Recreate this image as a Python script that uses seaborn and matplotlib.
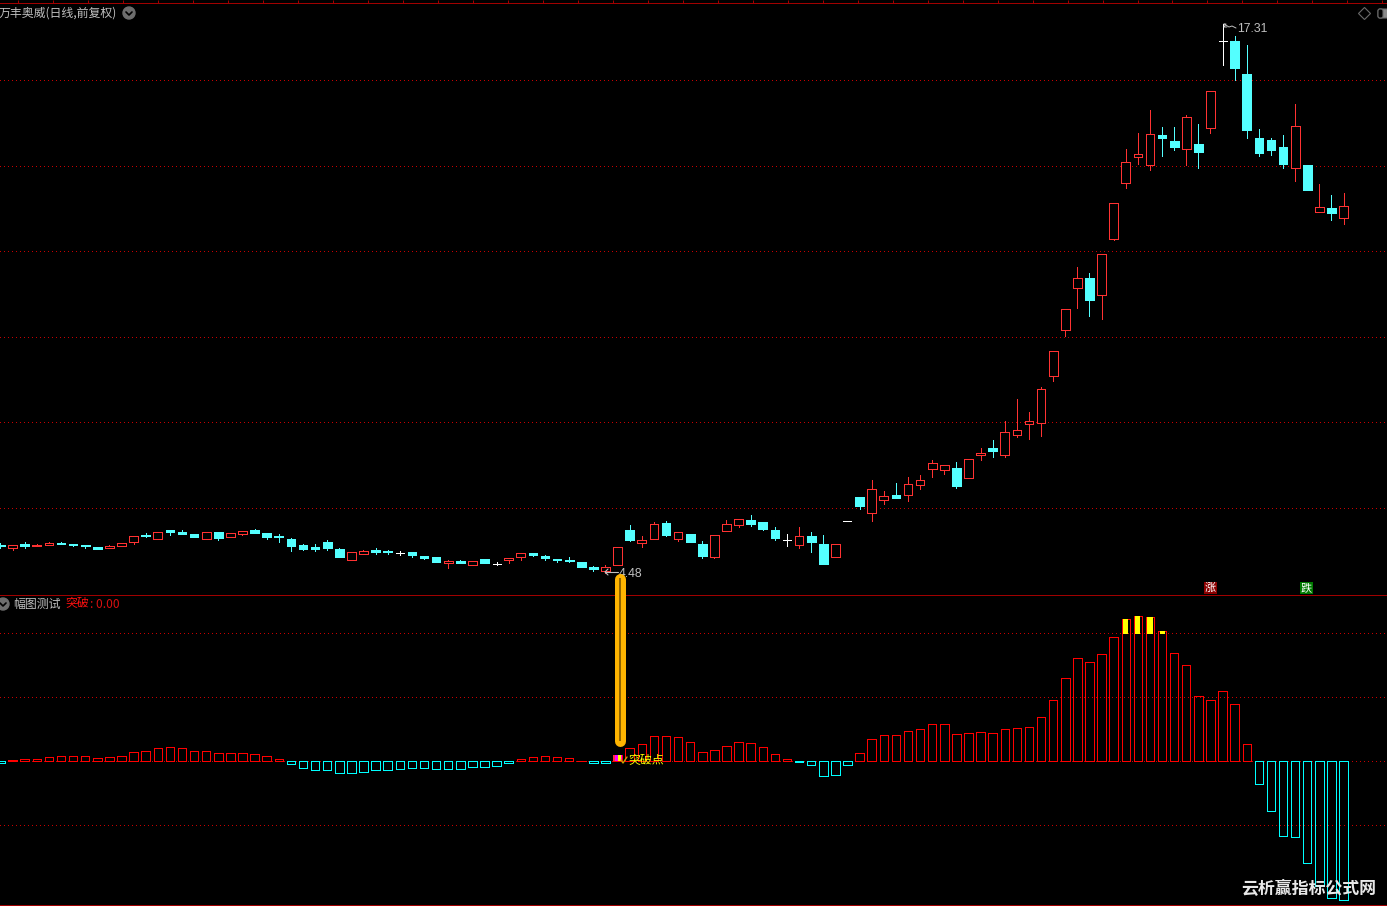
# plot.py
# -------
# Daily candlestick chart with an oscillator pane below it.
# Run: python plot.py

import matplotlib
matplotlib.use("Agg")
import matplotlib.pyplot as plt
import matplotlib.transforms as mtransforms
from matplotlib.lines import Line2D
from matplotlib.patches import Circle, FancyBboxPatch
import numpy as np
import pandas as pd
import seaborn as sns

# ── Data ──────────────────────────────────────────────
OPEN = [5.14, 5.07, 5.15, 5.10, 5.14, 5.18, 5.16, 5.14, 5.09, 5.05, 5.11, 5.19, 5.37, 5.26,
        5.48, 5.43, 5.39, 5.28, 5.43, 5.32, 5.38, 5.49, 5.41, 5.33, 5.28, 5.14, 5.09, 5.21,
        5.04, 4.79, 4.93, 5.02, 4.98, 4.94, 4.96, 4.88, 4.86, 4.70, 4.75, 4.67, 4.81, 4.68,
        4.77, 4.84, 4.95, 4.88, 4.81, 4.78, 4.74, 4.61, 4.53, 4.67, 5.48, 5.17, 5.26, 5.65,
        5.28, 5.39, 5.15, 4.86, 5.45, 5.59, 5.72, 5.67, 5.48, 5.25, 5.14, 5.34, 5.15, 4.84,
        5.69, 6.26, 5.89, 6.18, 6.31, 6.29, 6.53, 6.90, 6.88, 6.92, 6.69, 7.23, 7.41, 7.23,
        7.70, 7.96, 7.99, 9.09, 10.16, 11.15, 11.38, 10.99, 12.30, 13.59, 14.20, 14.01, 14.73,
        14.59, 14.39, 14.50, 14.88, 16.91, 16.91, 16.16, 14.66, 14.61, 14.45, 13.94, 14.03,
        12.91, 13.02, 12.77]
HIGH = [5.18, 5.14, 5.21, 5.15, 5.21, 5.21, 5.16, 5.14, 5.09, 5.14, 5.18, 5.34, 5.41, 5.43,
        5.48, 5.47, 5.39, 5.43, 5.43, 5.41, 5.46, 5.51, 5.41, 5.38, 5.30, 5.16, 5.16, 5.25,
        5.07, 4.97, 5.02, 5.07, 5.02, 4.98, 4.97, 4.88, 4.86, 4.78, 4.78, 4.75, 4.81, 4.74,
        4.82, 4.94, 4.95, 4.90, 4.81, 4.86, 4.74, 4.64, 4.67, 5.08, 5.60, 5.34, 5.67, 5.69,
        5.43, 5.39, 5.22, 5.36, 5.72, 5.74, 5.83, 5.67, 5.55, 5.39, 5.55, 5.43, 5.36, 5.15,
        5.69, 6.26, 6.64, 6.40, 6.57, 6.73, 6.76, 7.13, 7.01, 7.08, 7.15, 7.39, 7.58, 8.02,
        8.54, 8.23, 8.82, 9.66, 10.64, 11.64, 11.49, 11.93, 13.13, 14.40, 14.76, 15.30, 14.92,
        14.90, 15.18, 14.99, 15.76, 17.31, 17.03, 16.82, 14.87, 14.66, 14.73, 15.44, 14.03,
        13.58, 13.32, 13.37]
LOW = [5.07, 5.02, 5.07, 5.10, 5.14, 5.15, 5.10, 5.07, 5.03, 5.05, 5.11, 5.16, 5.31, 5.26,
       5.37, 5.38, 5.31, 5.28, 5.25, 5.32, 5.36, 5.40, 5.28, 5.21, 4.98, 5.02, 5.00, 5.02,
       4.86, 4.79, 4.93, 4.91, 4.93, 4.90, 4.86, 4.81, 4.74, 4.60, 4.70, 4.67, 4.70, 4.67,
       4.70, 4.78, 4.88, 4.78, 4.74, 4.74, 4.62, 4.53, 4.48, 4.67, 5.23, 5.09, 5.26, 5.35,
       5.23, 5.19, 4.83, 4.83, 5.45, 5.54, 5.58, 5.47, 5.25, 5.11, 5.07, 4.97, 4.69, 4.84,
       5.69, 5.98, 5.70, 6.08, 6.24, 6.17, 6.43, 6.71, 6.80, 6.47, 6.69, 7.13, 7.18, 7.20,
       7.65, 7.62, 7.67, 8.96, 10.02, 10.67, 10.49, 10.42, 12.27, 13.49, 14.05, 13.91, 14.22,
       14.38, 14.03, 13.96, 14.78, 16.37, 16.02, 14.66, 14.24, 14.26, 13.96, 13.65, 13.44,
       12.91, 12.74, 12.64]
CLOSE = [5.10, 5.14, 5.10, 5.14, 5.18, 5.16, 5.14, 5.10, 5.03, 5.11, 5.18, 5.34, 5.33, 5.43,
         5.44, 5.38, 5.31, 5.43, 5.30, 5.41, 5.46, 5.42, 5.32, 5.32, 5.10, 5.04, 5.04, 5.07,
         4.86, 4.97, 4.99, 4.97, 4.96, 4.94, 4.90, 4.83, 4.74, 4.75, 4.71, 4.75, 4.70, 4.68,
         4.82, 4.94, 4.90, 4.83, 4.78, 4.76, 4.62, 4.57, 4.61, 5.08, 5.25, 5.25, 5.62, 5.37,
         5.43, 5.19, 4.88, 5.36, 5.62, 5.74, 5.61, 5.51, 5.30, 5.25, 5.34, 5.21, 4.69, 5.15,
         5.69, 6.05, 6.44, 6.28, 6.24, 6.56, 6.65, 7.05, 7.01, 6.52, 7.15, 7.29, 7.34, 7.78,
         7.83, 8.04, 8.79, 9.66, 10.64, 11.37, 10.86, 11.93, 13.13, 14.09, 14.28, 14.75, 14.64,
         14.45, 15.15, 14.33, 15.76, 16.91, 16.28, 14.83, 14.29, 14.38, 14.05, 14.94, 13.44,
         13.04, 12.90, 13.06]

OSC = [-0.2, 0.1, 0.2, 0.25, 0.45, 0.55, 0.55, 0.55, 0.35, 0.45, 0.55, 0.95, 1.05, 1.35,
       1.45, 1.35, 1.05, 1.05, 0.85, 0.85, 0.85, 0.75, 0.55, 0.25, -0.3, -0.7, -0.9, -0.9,
       -1.2, -1.2, -1.1, -0.9, -0.9, -0.8, -0.7, -0.7, -0.8, -0.8, -0.8, -0.6, -0.6, -0.5,
       -0.2, 0.25, 0.45, 0.55, 0.45, 0.35, 0.05, -0.2, -0.2, 0.65, 1.35, 1.75, 2.55, 2.55,
       2.45, 1.95, 0.95, 1.15, 1.55, 1.95, 1.85, 1.45, 0.75, 0.25, -0.05, -0.4, -1.5, -1.4,
       -0.4, 0.8, 2.2, 2.6, 2.6, 3.0, 3.2, 3.7, 3.7, 2.7, 2.8, 2.9, 2.8, 3.2, 3.3, 3.4, 4.4,
       6.1, 8.3, 10.3, 9.9, 10.7, 12.4, 14.2, 14.5, 14.4, 13.0, 10.8, 9.6, 6.5, 6.1, 7.0,
       5.7, 1.7, -2.3, -5.0, -7.5, -7.6, -10.2, -12.5, -13.7, -13.9]

PRICE_GRID = [6, 8, 10, 12, 14, 16]
OSC_GRID = [-6.4, 0, 6.4, 12.8]
OVERHEAT_LEVEL = 12.75
OVERHEAT_BARS = [93, 94, 95, 96]
BREAK_BAR = 51
HIGH_BAR = 101
LOW_BAR = 50

# ── Settings ──────────────────────────────────────────
W, H = 1387, 906
C_RED = "#ff3232"
C_BAR_RED = "#ff0000"
C_CYAN = "#54ffff"
C_BAR_CYAN = "#00ffff"
C_GRID = "#c80000"
C_LINE = "#a00000"
C_TEXT = "#c0c0c0"
C_ICON = "#6e6e6e"
PX = 72 / 100  # one pixel in points at dpi 100

sns.set_theme(style="dark", rc={
    "axes.facecolor": "black",
    "figure.facecolor": "black",
    "savefig.facecolor": "black",
})
plt.rcParams["font.family"] = ["Noto Sans CJK SC", "DejaVu Sans"]

fig = plt.figure(figsize=(W / 100, H / 100), dpi=100)
ax_top = fig.add_axes([0, 1 - 595 / H, 1, 592 / H])
ax_low = fig.add_axes([0, 1 - 905 / H, 1, 310 / H])
ax_low.set_facecolor("none")
ax_low.set_zorder(5)

# pixels counted from the top left, for labels and icons only
px = mtransforms.Affine2D().scale(1, -1).translate(0, H)

idx = np.arange(len(OPEN))
xlim = (-0.04, 114.59)

# ── Candles ───────────────────────────────────────────
opens, highs, lows, closes = map(np.array, (OPEN, HIGH, LOW, CLOSE))
up = closes > opens
down = closes < opens
flat = closes == opens
body_top = np.maximum(opens, closes)
body_bot = np.minimum(opens, closes)
BODY_W = 0.72
crisp = dict(lw=PX, antialiased=False, zorder=3)

ax_top.vlines(idx[up], body_top[up], highs[up], color=C_RED, **crisp)
ax_top.vlines(idx[up], lows[up], body_bot[up], color=C_RED, **crisp)
ax_top.bar(idx[up], closes[up] - opens[up], BODY_W, bottom=opens[up],
           facecolor="black", edgecolor=C_RED, linewidth=PX, antialiased=False, zorder=3)

ax_top.vlines(idx[down], lows[down], highs[down], color=C_CYAN, **crisp)
ax_top.bar(idx[down], opens[down] - closes[down], BODY_W, bottom=closes[down],
           facecolor=C_CYAN, edgecolor=C_CYAN, linewidth=PX, antialiased=False, zorder=3)

ax_top.vlines(idx[flat], lows[flat], highs[flat], color="white", **crisp)
ax_top.hlines(closes[flat], idx[flat] - 0.33, idx[flat] + 0.33, color="white", **crisp)

ax_top.set_xlim(*xlim)
ax_top.set_ylim(3.96, 17.81)
ax_top.set_yticks(PRICE_GRID)
ax_top.tick_params(axis="y", length=0, labelleft=False)
ax_top.grid(axis="y", color=C_GRID, lw=PX, linestyle=(0, (1, 3)), antialiased=False)
ax_top.set_axisbelow(True)

# small ruler along the top edge
ax_top.xaxis.tick_top()
ax_top.set_xticks(np.arange(18, W, 34.97) / 12.1)
ax_top.tick_params(axis="x", length=3 * PX, width=PX, color=C_LINE, labeltop=False, direction="out")

# ── Oscillator pane ───────────────────────────────────
df = pd.DataFrame({"idx": idx, "osc": OSC})
df["side"] = np.where(df["osc"] >= 0, "up", "down")

sns.barplot(data=df, x="idx", y="osc", hue="side", native_scale=True, dodge=False,
            palette={"up": C_BAR_RED, "down": C_BAR_CYAN}, fill=False, width=0.7,
            linewidth=PX, errorbar=None, legend=False, ax=ax_low, zorder=3)
for bar in ax_low.patches:
    bar.set_antialiased(False)

osc = np.array(OSC)
solid = dict(edgecolor="none", linewidth=0, antialiased=False, zorder=4)
ax_low.bar(OVERHEAT_BARS, osc[OVERHEAT_BARS] - OVERHEAT_LEVEL, 0.42, bottom=OVERHEAT_LEVEL,
           color="#ffff00", **solid)
ax_low.bar(BREAK_BAR, osc[BREAK_BAR], 0.7, color="#ff00ff", **solid)
ax_low.bar(BREAK_BAR + 0.14, osc[BREAK_BAR], 0.25, color="#ffff00", **solid)
ax_low.bar(BREAK_BAR - 0.3, osc[BREAK_BAR], 0.1, color="#ff3232", **solid)

# orange marker running up out of the pane
ax_low.plot([BREAK_BAR + 0.2] * 2, [2.05, 18.25], color="#ffb400", lw=11 * PX,
            solid_capstyle="round", clip_on=False, zorder=6)
ax_low.plot([BREAK_BAR + 0.2] * 2, [2.05, 18.35], color="#8f6400", lw=2 * PX,
            solid_capstyle="butt", clip_on=False, zorder=7)

ax_low.set_xlim(*xlim)
ax_low.set_ylim(-14.4, 16.6)
ax_low.set_yticks(OSC_GRID)
ax_low.set_xticks([])
ax_low.set_xlabel("")
ax_low.set_ylabel("")
ax_low.tick_params(axis="y", length=0, labelleft=False)
ax_low.grid(axis="y", color=C_GRID, lw=PX, linestyle=(0, (1, 3)), antialiased=False)
ax_low.set_axisbelow(True)

for ax in (ax_top, ax_low):
    for side in ("left", "right"):
        ax.spines[side].set_visible(False)
    for side in ("top", "bottom"):
        ax.spines[side].set_color(C_LINE)
        ax.spines[side].set_linewidth(PX)
ax_low.spines["top"].set_visible(False)

# ── Labels ────────────────────────────────────────────
def label(x, y, s, color=C_TEXT, size=8.6, z=8, **kw):
    fig.text(x, y, s, transform=px, color=color, fontsize=size, va="center", zorder=z, **kw)


def round_icon(x, y):
    fig.add_artist(Circle((x, y), 6, transform=px, color=C_ICON, zorder=8))
    fig.add_artist(Line2D([x - 3, x, x + 3], [y - 1, y + 2, y - 1], transform=px,
                          color="black", lw=1.2, zorder=9))


label(-1, 13, "万丰奥威(日线,前复权)")
round_icon(129, 13)
label(13, 604, "幅图测试")
label(65.5, 604, "突破", color="#ff1010")
label(90, 604, ": 0.00", color="#d81010")
round_icon(3, 604)

# top right icons
fig.add_artist(Line2D([1364], [13], transform=px, marker="D", ms=6.5, mfc="none",
                      mec="#6a6a6a", mew=0.8, zorder=8))
fig.add_artist(FancyBboxPatch((1378, 9), 14, 9, boxstyle="round,pad=0,rounding_size=2", transform=px,
                              fc="#8a8a8a", ec="#6a6a6a", lw=0.8, zorder=8))
fig.add_artist(FancyBboxPatch((1378, 9), 5, 9, boxstyle="round,pad=0,rounding_size=2", transform=px,
                              fc="black", ec="#6a6a6a", lw=0.8, zorder=8))

# high and low price callouts
label(1237, 29, f"{highs[HIGH_BAR]:.2f}", family=["Liberation Sans", "DejaVu Sans"], size=8.8)
fig.add_artist(Line2D([1224, 1229, 1232, 1236], [24, 27, 26, 28], transform=px, color=C_TEXT, lw=0.7, zorder=8))
fig.add_artist(Line2D([1224, 1226, 1224, 1227], [24, 24, 27, 27], transform=px, color=C_TEXT, lw=0.7, zorder=8))

label(619, 574, f"{lows[LOW_BAR]:.2f}", family=["Liberation Sans", "DejaVu Sans"], size=8.8, z=3)
fig.add_artist(Line2D([605, 618], [572, 572], transform=px, color=C_TEXT, lw=0.8, zorder=3))
fig.add_artist(Line2D([608, 605, 608], [569, 572, 575], transform=px, color=C_TEXT, lw=0.8, zorder=3))

# break-out note in the lower pane
fig.add_artist(Line2D([621, 623, 627], [760, 763, 757], transform=px, color="#c8a000", lw=1, zorder=8))
label(628, 761, "突破点", color="#ffff00")

# up / down flags above the separator
for flag_x, flag, flag_bg in [(1204, "涨", "#8b0000"), (1300, "跌", "#007a00")]:
    fig.text(flag_x + 6.5, 588, flag, transform=px, color="white", fontsize=8, ha="center", va="center",
             zorder=8, bbox=dict(boxstyle="square,pad=0.1", fc=flag_bg, ec="none"))

# site mark in the corner
label(1241, 889, "云析赢指标公式网", color="#e8e8e8", size=12.2, z=9, fontweight="bold")

fig.savefig("out.png", dpi=100)
plt.close(fig)
print("Saved: out.png")
